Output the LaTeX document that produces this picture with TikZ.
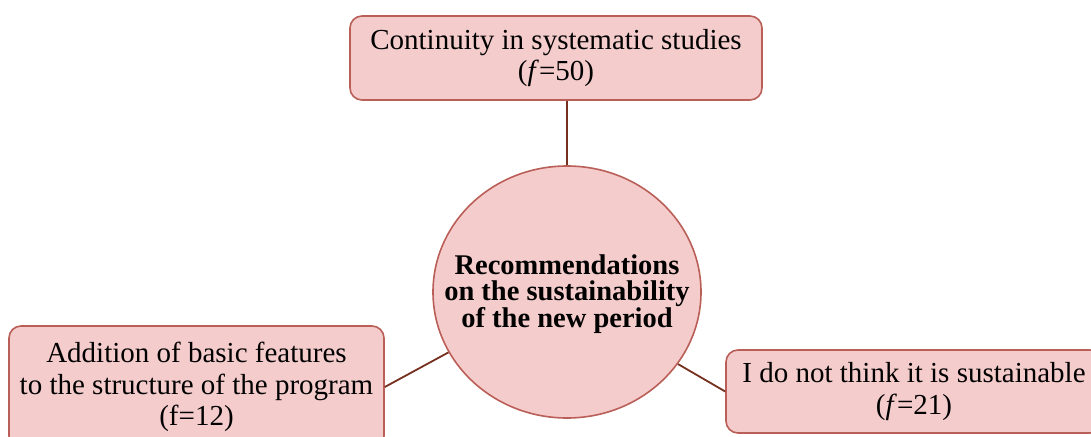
\documentclass[tikz,border=0pt]{standalone}
\usepackage{fontspec}
\setmainfont{Liberation Serif}
\usetikzlibrary{shapes.geometric}
\definecolor{boxfill}{HTML}{F5CCCC}
\definecolor{boxedge}{HTML}{BA5F58}
\definecolor{linkcol}{HTML}{76301F}
\begin{document}
\begin{tikzpicture}[x=1pt,y=-1pt,
  leaf/.style={draw=boxedge, fill=boxfill, rounded corners=12pt, line width=1.6pt,
    align=center, inner sep=0pt, font=\fontsize{29}{31.5}\selectfont},
  hub/.style={ellipse, draw=boxedge, fill=boxfill, line width=1.6pt,
    inner sep=0pt, minimum width=268pt, minimum height=252pt},
  hubtext/.style={align=center, inner sep=0pt,
    font=\bfseries\fontsize{28.5}{26.5}\selectfont},
  link/.style={draw=linkcol, line width=1.8pt}]
\useasboundingbox (0,0) rectangle (1091,436);
\clip (0,0) rectangle (1091,436);

\node[hub] (hub) at (567,292) {};
\node[hubtext] (hublabel) at (567,294)
  {Recommendations\\on the sustainability\\of the new period};

\node[leaf, minimum width=412pt, minimum height=84pt] (top) at (556,58)
  {Continuity in systematic studies\\(\textit{f}=50)};
\node[leaf, minimum width=375pt, minimum height=122pt] (left) at (196.5,387)
  {Addition of basic features\\to the structure of the program\\(f=12)};
\node[leaf, minimum width=376pt, minimum height=83pt] (right) at (914,391.5)
  {I do not think it is sustainable\\(\textit{f}=21)};

\draw[link] (hub.north) -- (hub.north |- top.south);
\draw[link] (hub.207) -- (left.east);
\draw[link] (hub.327) -- (right.west);
\end{tikzpicture}
\end{document}
